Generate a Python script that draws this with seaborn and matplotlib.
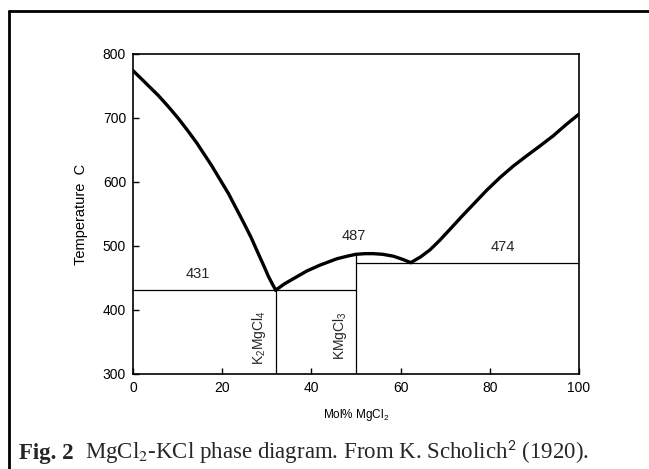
import matplotlib
matplotlib.use("Agg")
import matplotlib.pyplot as plt
from matplotlib.lines import Line2D
import pandas as pd
import seaborn as sns

# Liquidus branches (mol% MgCl2, temperature in C)
kcl_branch_x = [0, 2.5, 5.7, 7.9, 10.2, 12.3, 14.3, 17.6, 21.4, 24.7, 26.5,
                28.1, 29.4, 30.4, 31.3, 32]
kcl_branch_t = [774, 757, 735, 718, 699, 680, 661, 626, 582, 538, 513,
                488, 468, 452, 440, 431]

mid_branch_x = [32, 34, 36.5, 39, 41.9, 45.7, 48, 50, 52, 53.9, 56, 58.4,
                60.5, 62.3]
mid_branch_t = [431, 441, 451, 461, 470, 480, 484, 487, 488, 488, 487, 484,
                479, 474]

mgcl2_branch_x = [62.3, 64.5, 66.6, 68.8, 71.2, 73.7, 76.3, 79.3, 82.3,
                  85.3, 88.3, 91.2, 94.2, 97, 100]
mgcl2_branch_t = [474, 483, 494, 509, 527, 546, 565, 587, 607, 625, 641,
                  656, 672, 689, 706]

# Eutectic / peritectic isotherms and compound compositions
eutectic_low = 431
eutectic_high = 474
congruent_melt = 487
k2mgcl4_x = 32
kmgcl3_x = 50

x_ticks = [0, 20, 40, 60, 80, 100]
y_ticks = [300, 400, 500, 600, 700, 800]

sns.set_theme(style="white")
plt.rcParams["font.family"] = ["Liberation Sans", "DejaVu Sans"]
plt.rcParams["mathtext.fontset"] = "custom"
plt.rcParams["mathtext.rm"] = "Liberation Sans"
plt.rcParams["mathtext.it"] = "Liberation Sans:italic"
plt.rcParams["mathtext.bf"] = "Liberation Sans:bold"

fig = plt.figure(figsize=(6.49, 4.69), dpi=100)
ax = fig.add_axes([0.2049, 0.2026, 0.6872, 0.6823])

branches = pd.concat([
    pd.DataFrame({"x": kcl_branch_x, "t": kcl_branch_t, "b": "kcl"}),
    pd.DataFrame({"x": mid_branch_x, "t": mid_branch_t, "b": "mid"}),
    pd.DataFrame({"x": mgcl2_branch_x, "t": mgcl2_branch_t, "b": "mgcl2"}),
])
sns.lineplot(data=branches, x="x", y="t", units="b", estimator=None,
             sort=False, color="black", lw=2.4, ax=ax, legend=False)
for ln in ax.lines:
    ln.set_solid_joinstyle("round")
    ln.set_solid_capstyle("round")

thin = dict(color="black", lw=0.9)
ax.plot([0, kmgcl3_x], [eutectic_low, eutectic_low], **thin)
ax.plot([kmgcl3_x, 100], [eutectic_high, eutectic_high], **thin)
ax.plot([k2mgcl4_x, k2mgcl4_x], [300, eutectic_low], **thin)
ax.plot([kmgcl3_x, kmgcl3_x], [300, congruent_melt], **thin)

ax.text(14.5, 445, str(eutectic_low), ha="center", va="bottom", fontsize=10.5)
ax.text(49.5, 505, str(congruent_melt), ha="center", va="bottom", fontsize=10.5)
ax.text(83, 487, str(eutectic_high), ha="center", va="bottom", fontsize=10.5)
ax.text(28.3, 357, r"K$_2$MgCl$_4$", rotation=90, ha="center", va="center",
        fontsize=10)
ax.text(46.4, 360, r"KMgCl$_3$", rotation=90, ha="center", va="center",
        fontsize=10)

ax.set_xlim(0, 100)
ax.set_ylim(300, 800)
ax.set_xticks(x_ticks)
ax.set_yticks(y_ticks)
ax.tick_params(direction="in", length=4, width=1, colors="black",
               labelsize=10, pad=5, bottom=True, left=True)
for s in ax.spines.values():
    s.set_color("black")
    s.set_linewidth(1.2)

ax.set_xlabel(r"Mol% MgCl$_2$", fontsize=8.5, labelpad=9, color="black")
ax.set_ylabel("Temperature  C", fontsize=10.5, labelpad=11, color="black")

# Page frame: top rule and left rule
fig.add_artist(Line2D([9 / 649, 1.0], [1 - 11 / 469, 1 - 11 / 469],
                      color="black", lw=2, transform=fig.transFigure))
fig.add_artist(Line2D([9 / 649, 9 / 649], [0, 1 - 11 / 469],
                      color="black", lw=2, transform=fig.transFigure))

# Caption: bold figure number followed by the description
serif = ["Liberation Serif", "DejaVu Serif"]
cap_y = 1 - 459 / 469
fig_no = fig.text(19 / 649, cap_y, "Fig. 2", ha="left", va="baseline",
                  fontsize=16.5, fontweight="bold", family=serif)
renderer = fig.canvas.get_renderer()
bb = fig_no.get_window_extent(renderer)
fig.text(bb.x1 / 649 + 11 / 649, cap_y,
         r"MgCl$_2$-KCl phase diagram. From K. Scholich$^{\mathsf{2}}$ (1920).",
         ha="left", va="baseline", fontsize=16.5, family=serif,
         math_fontfamily="stix")

fig.savefig("out.png", dpi=100)
